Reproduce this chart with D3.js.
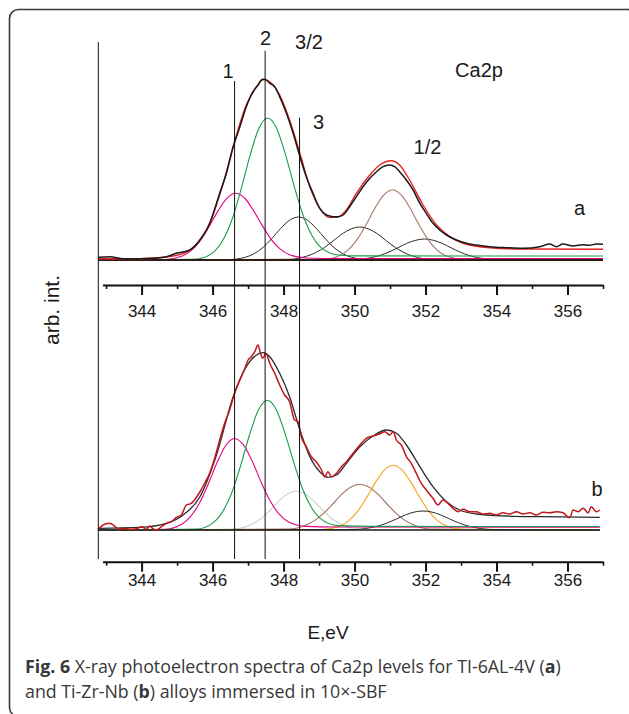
<!DOCTYPE html>
<html>
<head>
<meta charset="utf-8">
<script src="https://cdn.jsdelivr.net/npm/d3@7"></script>
<style>
  html, body { margin: 0; padding: 0; background: #fff; }
  svg { display: block; }
</style>
</head>
<body>
<div id="chart"></div>
<script>
// ---- data: binding energy (eV), intensity (arb. units) ----
const majorTicks = [344, 346, 348, 350, 352, 354, 356];
const minorTicks = [343, 345, 347, 349, 351, 353, 355, 357];
const peakEnergies = [346.62, 347.48, 348.45];
const peakNames = ["1", "2", "3"];

// (a) Ti-6Al-4V
const aSpectrum = [[342.77,2.7],[343.10,3.3],[343.48,1.3],[343.95,1.3],[344.42,2.0],[344.70,3.3],[344.98,6.7],[345.36,10],[345.64,20],[345.92,36.7],[346.20,66.7],[346.39,86.7],[346.58,113.3],[346.77,133.3],[346.95,153.3],[347.14,168.3],[347.28,175],[347.38,180],[347.47,180.7],[347.61,176.7],[347.75,173.3],[347.89,163.3],[348.08,146.7],[348.27,126.7],[348.46,103.3],[348.64,83.3],[348.83,66.7],[349.02,51.7],[349.21,45],[349.30,44],[349.39,43.3],[349.54,43.3],[349.68,45],[349.86,53.3],[350.05,63.3],[350.24,73.3],[350.43,81.7],[350.62,88.3],[350.80,93.3],[350.99,95],[351.13,93.3],[351.27,88.3],[351.46,80],[351.65,70],[351.84,56.7],[352.02,46.7],[352.21,36.7],[352.40,30],[352.59,25],[352.87,20],[353.15,16.7],[353.43,15],[353.81,13.3],[354.28,12.3],[354.75,11.7],[355.22,13.3],[355.50,16],[355.69,13.3],[355.87,16],[356.16,14],[356.44,15.3],[356.62,14.7],[356.81,16],[357.0,15.7]];
const aFit = [[342.77,1.3],[343.95,1.3],[344.89,4],[345.36,10],[345.83,30],[346.30,76.7],[346.58,113.3],[346.95,155],[347.24,173.3],[347.42,180.7],[347.61,178.3],[347.89,165],[348.17,140],[348.46,106.7],[348.74,73.3],[349.02,51.7],[349.30,42.7],[349.49,42.7],[349.77,50],[350.05,66.7],[350.43,85],[350.71,95],[351.04,99.3],[351.27,95],[351.55,80],[351.93,55],[352.31,35],[352.68,23.3],[353.06,16.7],[353.81,12.3],[354.75,11],[357.0,10.7]];
const aPeak1 = [[342.78,0.2],[344.0,0.3],[344.65,0.5],[345.15,4.1],[345.40,9.6],[345.65,19.2],[345.90,33.2],[346.15,48.9],[346.40,61.7],[346.65,66.8],[346.90,62],[347.15,49.6],[347.40,34.4],[347.65,20.7],[347.90,11.1],[348.15,5.6],[348.65,2],[349.5,1.5],[357,1.5]];
const aPeak2 = [[342.78,0.3],[344.5,0.5],[345.55,1],[346.05,8.7],[346.30,20.4],[346.55,40.7],[346.80,70.4],[347.05,103.9],[347.30,131.2],[347.55,142],[347.80,132],[348.05,105.9],[348.30,73.6],[348.55,44.7],[348.80,24.4],[349.05,12.7],[349.55,5],[350.05,4.1],[357,4]];
const aPeak3 = [[342.78,0],[346.42,0.3],[346.92,2.7],[347.17,6.3],[347.42,12.5],[347.67,21.5],[347.92,31.6],[348.17,39.8],[348.42,43],[348.67,39.8],[348.92,31.6],[349.17,21.5],[349.42,12.5],[349.67,6.3],[349.92,2.7],[350.42,0.3],[357,0]];
const aPeak4 = [[342.78,0],[348.15,0.7],[348.65,3.8],[348.90,7.3],[349.15,12.5],[349.40,19.1],[349.65,26.1],[349.90,31],[350.15,33],[350.40,31],[350.65,26.1],[350.90,19.1],[351.15,12.5],[351.40,7.3],[351.65,3.8],[352.15,0.7],[357,0]];
const aPeak5 = [[342.78,0.2],[349.07,0.5],[349.57,4.3],[349.82,10.2],[350.07,20.4],[350.32,35],[350.57,51.5],[350.82,64.8],[351.07,70],[351.32,64.8],[351.57,51.5],[351.82,35],[352.07,20.4],[352.32,10.2],[352.57,4.3],[353.07,0.8],[357,0.5]];
const aPeak6 = [[342.78,0],[349.97,0.4],[350.47,2.4],[350.72,4.6],[350.97,8],[351.22,12.2],[351.47,16.6],[351.72,19.7],[351.97,21],[352.22,19.7],[352.47,16.6],[352.72,12.2],[352.97,8],[353.22,4.6],[353.47,2.4],[353.97,0.4],[357,0]];
const aBase = [[342.78,0],[357,0]];

// (b) Ti-Zr-Nb
const bSpectrum = [[342.77,0.7],[342.96,5.7],[343.10,6.7],[343.24,4],[343.34,1],[343.48,1.7],[343.67,0.7],[343.85,1.3],[344.00,3.3],[344.14,0.7],[344.23,4],[344.32,1.3],[344.42,0],[344.56,3.3],[344.70,6.7],[344.84,8.3],[344.98,12.7],[345.12,15],[345.26,25],[345.40,26.7],[345.55,33],[345.64,38],[345.78,47],[345.92,57],[346.06,72],[346.20,90],[346.34,106.7],[346.48,120],[346.62,136.7],[346.77,150],[346.91,161.7],[347.00,170],[347.09,173.3],[347.19,178.3],[347.28,185],[347.35,176.7],[347.42,171.7],[347.50,176.7],[347.61,166.7],[347.75,156.7],[347.89,145],[348.03,135],[348.17,128.3],[348.31,110],[348.41,108.3],[348.50,93.3],[348.64,83.3],[348.78,73.3],[348.92,68.3],[349.07,60],[349.16,53.3],[349.25,58.3],[349.35,53.3],[349.49,56.7],[349.63,63.3],[349.77,68.3],[349.96,76.7],[350.15,85],[350.33,91.7],[350.52,94],[350.71,96],[350.85,98.3],[350.99,95],[351.09,98.3],[351.18,90],[351.32,85],[351.46,73.3],[351.60,66.7],[351.74,56.7],[351.88,46.7],[352.02,40],[352.21,31.7],[352.35,25],[352.49,30],[352.63,26.7],[352.77,21.7],[352.92,18.3],[353.06,20.7],[353.24,18.3],[353.43,18.3],[353.62,16],[353.81,16.7],[353.99,15],[354.18,17.3],[354.37,16],[354.56,18.3],[354.75,16],[354.93,17.3],[355.12,15],[355.31,17.7],[355.50,17.3],[355.69,18.3],[355.87,17.3],[356.06,12.3],[356.16,20],[356.30,18.3],[356.44,21.7],[356.58,17.3],[356.67,23.3],[356.81,18.3],[356.91,20]];
const bFit = [[342.77,1.7],[343.95,2.7],[344.70,6.7],[345.17,15],[345.64,33],[346.11,75],[346.58,133.3],[346.95,163.3],[347.24,175],[347.42,177.3],[347.61,173.3],[347.89,156.7],[348.17,133.3],[348.46,100],[348.74,73.3],[349.02,58.3],[349.25,52.7],[349.49,55],[349.77,66.7],[350.15,83.3],[350.52,94],[350.90,100],[351.18,96.7],[351.46,85],[351.84,63.3],[352.21,43.3],[352.59,28.3],[352.96,20],[353.43,16],[354.28,14],[355.22,13.3],[356.91,12.7]];
const bPeak1 = [[342.78,0.2],[344.0,0.3],[344.62,0.6],[345.12,5.6],[345.37,13.1],[345.62,26.2],[345.87,45.3],[346.12,66.9],[346.37,84.5],[346.62,91.5],[346.87,85.1],[347.12,68.5],[347.37,47.7],[347.62,29.2],[347.87,16.1],[348.12,8.6],[348.62,3.6],[349.5,3],[356.91,2.8]];
const bPeak2 = [[342.78,0.3],[344.5,0.5],[345.54,0.9],[346.04,7.9],[346.29,18.7],[346.54,37.2],[346.79,64.4],[347.04,95],[347.29,119.9],[347.54,129.8],[347.79,120.6],[348.04,96.7],[348.29,67.2],[348.54,40.7],[348.79,22.2],[349.04,11.4],[349.54,4.4],[350.5,3.6],[356.91,3.5]];
const bPeak3 = [[342.78,0],[346.36,0.3],[346.86,2.4],[347.11,5.7],[347.36,11.3],[347.61,19.5],[347.86,28.7],[348.11,36.1],[348.36,39],[348.61,36.1],[348.86,28.7],[349.11,19.5],[349.36,11.3],[349.61,5.7],[349.86,2.4],[350.36,0.3],[356.91,0]];
const bPeak4 = [[342.78,0],[348.15,0.9],[348.65,5.3],[348.90,10.1],[349.15,17.4],[349.40,26.5],[349.65,36.1],[349.90,43],[350.15,45.7],[350.40,43],[350.65,36.1],[350.90,26.5],[351.15,17.4],[351.40,10.1],[351.65,5.3],[352.15,0.9],[356.91,0]];
const bPeak5 = [[342.78,0],[349.09,0.5],[349.59,4],[349.84,9.4],[350.09,18.8],[350.34,32.4],[350.59,47.6],[350.84,59.9],[351.09,64.7],[351.34,59.9],[351.59,47.6],[351.84,32.4],[352.09,18.8],[352.34,9.4],[352.59,4],[353.09,0.5],[356.91,0]];
const bPeak6 = [[342.78,0],[349.93,0.4],[350.43,2.2],[350.68,4.2],[350.93,7.2],[351.18,11],[351.43,15],[351.68,17.9],[351.93,19],[352.18,17.9],[352.43,15],[352.68,11],[352.93,7.2],[353.18,4.2],[353.43,2.2],[353.93,0.4],[356.91,0]];
const bBase = [[342.78,0],[356.91,0]];

// ---- layout ----
const width = 629, height = 714;
const font = "'Liberation Sans', Arial, Helvetica, sans-serif";

const svg = d3.select("#chart").append("svg")
  .attr("width", width)
  .attr("height", height)
  .attr("viewBox", [0, 0, width, height]);

// rounded figure frame (runs off the right and bottom edges)
svg.append("rect")
  .attr("x", 9.5).attr("y", 9.5)
  .attr("width", 627).attr("height", 707)
  .attr("rx", 9)
  .attr("fill", "none")
  .attr("stroke", "#3a3a3a")
  .attr("stroke-width", 1.6);

const x = d3.scaleLinear().domain([342.78, 357]).range([98.3, 603]);
const yA = d3.scaleLinear().domain([0, 200]).range([260, 60]);
const yB = d3.scaleLinear().domain([0, 200]).range([530, 330]);

function drawSeries(y, list) {
  const line = d3.line()
    .x(d => x(d[0]))
    .y(d => y(d[1]))
    .curve(d3.curveMonotoneX);
  svg.append("g")
    .attr("fill", "none")
    .attr("stroke-linejoin", "round")
    .selectAll("path")
    .data(list)
    .join("path")
    .attr("d", s => line(s.data))
    .attr("stroke", s => s.color)
    .attr("stroke-width", s => s.w);
}

drawSeries(yA, [
  { data: aPeak3, color: "#2b2b2b", w: 1 },
  { data: aPeak4, color: "#2b2b2b", w: 1 },
  { data: aPeak6, color: "#2b2b2b", w: 1 },
  { data: aPeak5, color: "#a57865", w: 1.1 },
  { data: aPeak1, color: "#e4007f", w: 1.1 },
  { data: aPeak2, color: "#1b9a4a", w: 1.1 },
  { data: aBase, color: "#2a1e16", w: 2.2 },
  { data: aFit, color: "#e8231f", w: 1.4 },
  { data: aSpectrum, color: "#1a1a1a", w: 1.5 }
]);

drawSeries(yB, [
  { data: bPeak3, color: "#cfcfcf", w: 1.1 },
  { data: bPeak4, color: "#a0705a", w: 1.1 },
  { data: bPeak5, color: "#f5a31e", w: 1.1 },
  { data: bPeak6, color: "#2b2b2b", w: 1 },
  { data: bPeak1, color: "#e4007f", w: 1.1 },
  { data: bPeak2, color: "#1b9a4a", w: 1.1 },
  { data: bBase, color: "#222", w: 1.3 },
  { data: bFit, color: "#2b2b2b", w: 1.3 },
  { data: bSpectrum, color: "#c3161c", w: 1.5 }
]);

// vertical lines: left frame of plot and the three peak positions
svg.append("line")
  .attr("x1", x(342.78)).attr("x2", x(342.78))
  .attr("y1", 42).attr("y2", 559)
  .attr("stroke", "#111").attr("stroke-width", 1);

const peakTops = [81, 50.7, 117.7];
svg.append("g")
  .selectAll("line")
  .data(peakEnergies)
  .join("line")
  .attr("x1", d => x(d)).attr("x2", d => x(d))
  .attr("y1", (d, i) => peakTops[i]).attr("y2", 559)
  .attr("stroke", "#111").attr("stroke-width", 1);

// x axes (one under each spectrum)
const xAxisScale = d3.scaleLinear().domain([342.9, 357]).range([x(342.9), x(357)]);

function drawAxis(yPos, pad) {
  const g = svg.append("g").attr("transform", `translate(0,${yPos})`);
  g.append("g")
    .call(d3.axisBottom(xAxisScale).tickValues(minorTicks).tickSize(4).tickSizeOuter(0).tickFormat(""))
    .call(a => a.select(".domain").remove())
    .selectAll("line").attr("stroke", "#111").attr("stroke-width", 1.6);
  g.append("g")
    .call(d3.axisBottom(xAxisScale).tickValues(majorTicks).tickSize(10).tickSizeOuter(0)
      .tickPadding(pad).tickFormat(d3.format("d")))
    .call(a => a.select(".domain").attr("stroke", "#111").attr("stroke-width", 2))
    .call(a => a.selectAll(".tick line").attr("stroke", "#111").attr("stroke-width", 2))
    .call(a => a.selectAll("text")
      .attr("font-family", font).attr("font-size", 17).attr("fill", "#1a1a1a"));
}
drawAxis(285, 9.5);
drawAxis(561.7, 2.5);

// annotations
const labels = [
  { t: "1", x: 228, y: 78 },
  { t: "2", x: 265.5, y: 45 },
  { t: "3/2", x: 309, y: 49 },
  { t: "3", x: 318.5, y: 129 },
  { t: "1/2", x: 427.5, y: 154 },
  { t: "Ca2p", x: 479, y: 77 },
  { t: "a", x: 579.5, y: 215 },
  { t: "b", x: 597, y: 496 }
];
svg.append("g")
  .attr("font-family", font)
  .attr("font-size", 20)
  .attr("fill", "#1a1a1a")
  .attr("text-anchor", "middle")
  .selectAll("text")
  .data(labels)
  .join("text")
  .attr("x", d => d.x)
  .attr("y", d => d.y)
  .text(d => d.t);

svg.append("text")
  .attr("transform", "translate(59,310) rotate(-90)")
  .attr("text-anchor", "middle")
  .attr("font-family", font).attr("font-size", 21).attr("fill", "#1a1a1a")
  .text("arb. int.");

svg.append("text")
  .attr("x", 328).attr("y", 639)
  .attr("text-anchor", "middle")
  .attr("font-family", font).attr("font-size", 19).attr("fill", "#1a1a1a")
  .text("E,eV");

// caption
const cap = svg.append("g")
  .attr("font-family", "'Open Sans', 'Noto Sans', sans-serif")
  .attr("font-size", 17.8)
  .attr("fill", "#383838");

const line1 = cap.append("text").attr("x", 25).attr("y", 673);
line1.append("tspan").attr("font-weight", "bold").text("Fig. 6");
line1.append("tspan").text(" X-ray photoelectron spectra of Ca2p levels for TI-6AL-4V (");
line1.append("tspan").attr("font-weight", "bold").text("a");
line1.append("tspan").text(")");

const line2 = cap.append("text").attr("x", 25).attr("y", 697.6);
line2.append("tspan").text("and Ti-Zr-Nb (");
line2.append("tspan").attr("font-weight", "bold").text("b");
line2.append("tspan").text(") alloys immersed in 10×-SBF");
</script>
</body>
</html>
